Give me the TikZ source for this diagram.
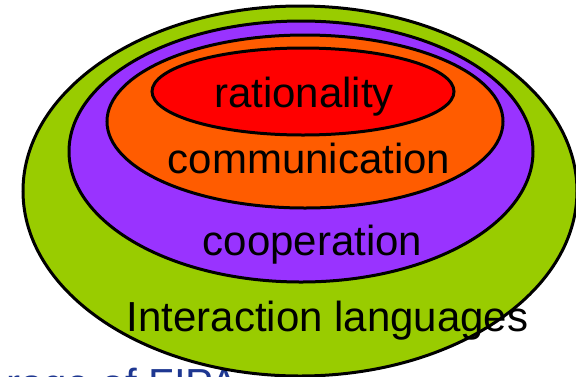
\documentclass[tikz,border=0pt]{standalone}
\usepackage{fontspec}
\setmainfont{Liberation Sans}
\usetikzlibrary{shapes.geometric}
\definecolor{lgreen}{HTML}{99CC00}
\definecolor{lpurple}{HTML}{9933FF}
\definecolor{lorange}{HTML}{FF5C00}
\definecolor{lred}{HTML}{FF0000}
\definecolor{lblue}{RGB}{30,55,145}
\tikzset{
  ring/.style={ellipse, draw=black, line width=3pt, inner sep=0pt, outer sep=0pt},
  lbl/.style={font=\fontsize{42}{48}\selectfont, text=black, inner sep=0pt, anchor=base},
}
\begin{document}
\begin{tikzpicture}[x=1pt,y=-1pt]
\useasboundingbox (0,0) rectangle (576,376);
\clip (0,0) rectangle (576,376);
\fill[white] (0,0) rectangle (576,376);
\node[font=\fontsize{42}{48}\selectfont, text=lblue, inner sep=0pt, anchor=base west] (under) at (6,398) {rage of FIPA};
\node[ring, fill=lgreen, minimum width=554pt, minimum height=370pt] (green) at (300,191) {};
\node[ring, fill=lpurple, minimum width=464pt, minimum height=261pt] (purple) at (301,151.5) {};
\node[ring, fill=lorange, minimum width=396pt, minimum height=173pt] (orange) at (305,121.5) {};
\node[ring, fill=lred, minimum width=302pt, minimum height=87pt] (red) at (303,91.5) {};
\node[lbl] (t1) at (304,107) {rationality};
\node[lbl] (t2) at (309,173) {communication};
\node[lbl] (t3) at (312.5,255) {cooperation};
\node[lbl] (t4) at (327.5,331) {Interaction languages};
\end{tikzpicture}
\end{document}
